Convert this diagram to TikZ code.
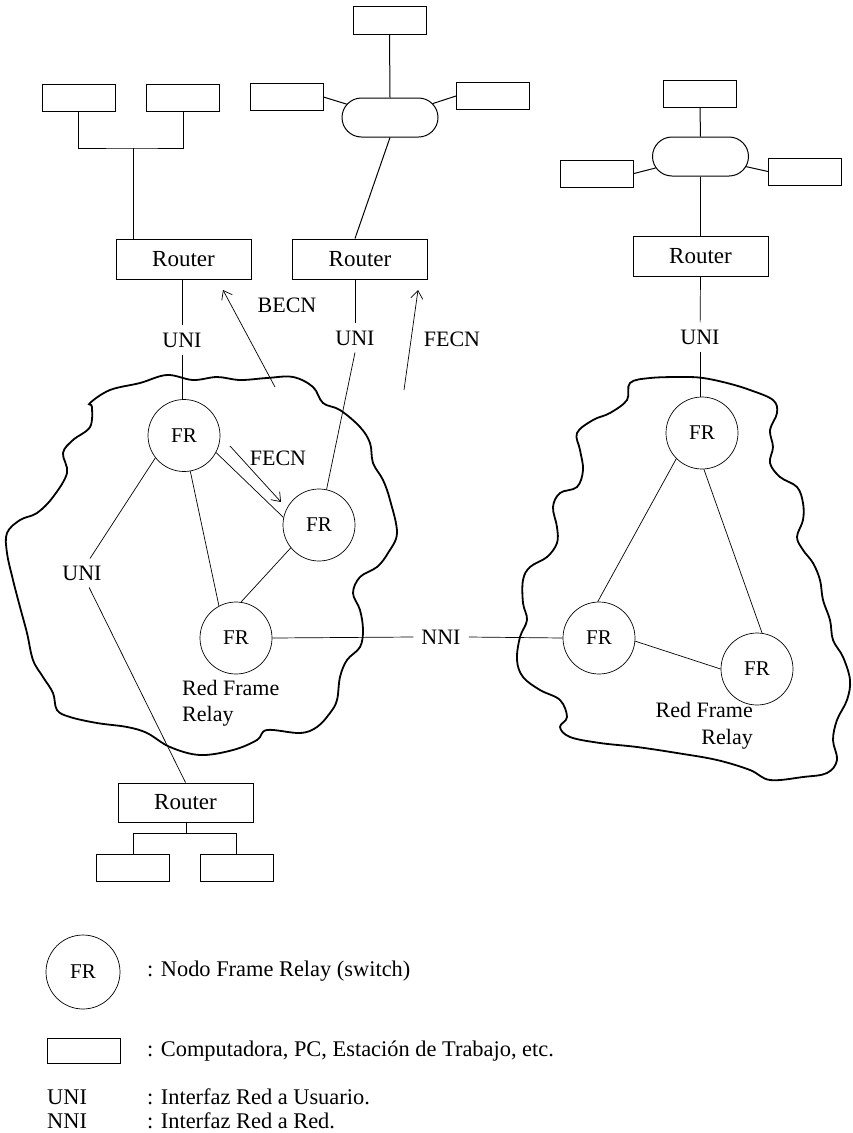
\documentclass[tikz,border=0pt]{standalone}
\usepackage{fontspec}
\setmainfont{Liberation Serif}
\usetikzlibrary{arrows.meta,shapes.misc}
\begin{document}
\begin{tikzpicture}[x=1pt,y=-1pt,
  every node/.style={font=\fontsize{22}{26}\selectfont},
  pcbox/.style={draw,line width=1pt,inner sep=0pt,minimum width=73pt,minimum height=27pt},
  router/.style={draw,line width=1pt,inner sep=0pt,minimum width=135pt,minimum height=40pt,font=\fontsize{23}{27}\selectfont},
  hub/.style={draw,line width=1pt,rounded rectangle,inner sep=0pt,minimum width=96pt,minimum height=39pt},
  frnode/.style={draw,circle,line width=0.7pt,inner sep=0pt,minimum size=72pt,font=\fontsize{21}{25}\selectfont},
  lbl/.style={inner sep=7pt},
  link/.style={line width=0.7pt},
  wire/.style={line width=1pt},
  cloud/.style={line width=1.8pt},
  note/.style={-{Straight Barb[length=8pt,width=12pt]},line width=0.7pt},
  legend/.style={anchor=west,inner sep=0pt,font=\fontsize{22.4}{26}\selectfont}
]
\useasboundingbox (0,0) rectangle (853,1133);

% ---------- clouds ----------
\draw[cloud] plot[smooth cycle,tension=0.6] coordinates {
(90,403) (110,390) (140,383) (167,375) (193,380) (217,377) (240,380) (267,378) (293,377) (313,387) (323,403) (340,410) (360,427) (370,443) (373,463) (383,480) (390,500) (397,533) (388,553) (377,567) (360,577) (353,593) (360,610) (363,630) (360,647) (347,660) (340,677) (337,700) (330,713) (317,727) (300,733) (267,730) (257,740) (233,750) (200,755) (170,747) (147,733) (127,727) (97,723) (70,717) (57,710) (53,693) (43,677) (33,660) (27,633) (20,607) (13,580) (7,553) (7,533) (20,520) (37,513) (53,497) (67,473) (63,453) (73,440) (90,427) (92,407)};
\draw[cloud] plot[smooth cycle,tension=0.6] coordinates {
(630,383) (650,378) (683,377) (703,378) (727,383) (750,390) (773,400) (777,413) (770,430) (773,447) (770,463) (780,477) (797,487) (803,503) (803,520) (797,537) (803,550) (813,563) (820,580) (823,600) (830,620) (833,640) (843,657) (850,680) (847,700) (837,720) (833,740) (837,760) (827,773) (803,777) (770,780) (750,770) (717,760) (677,753) (637,747) (600,743) (570,737) (560,727) (567,717) (560,700) (540,690) (523,677) (517,660) (520,637) (527,620) (523,603) (523,580) (530,567) (547,557) (557,543) (557,527) (553,507) (560,493) (577,487) (583,470) (580,450) (577,433) (593,420) (610,413) (627,400)};

% ---------- computers ----------
\node[pcbox] (pa) at (78.5,97.5) {};
\node[pcbox] (pb) at (183,97.5) {};
\node[pcbox,minimum height=28pt] (pc) at (389.5,20) {};
\node[pcbox] (pd) at (286.5,97) {};
\node[pcbox] (pe) at (493,96) {};
\node[pcbox] (pf) at (700,94) {};
\node[pcbox] (pg) at (597,173.5) {};
\node[pcbox] (ph) at (805,171.5) {};
\node[pcbox] (pi) at (133,868) {};
\node[pcbox] (pj) at (236.5,868) {};

% ---------- hubs ----------
\node[hub] (e1) at (390,117.5) {};
\node[hub] (e2) at (700.5,156.5) {};

% ---------- routers ----------
\node[router] (r1) at (183.5,259) {Router};
\node[router] (r2) at (360,259) {Router};
\node[router] (r3) at (700.5,256.5) {Router};
\node[router,minimum height=39pt] (r4) at (185.5,802.5) {Router};

% ---------- FR switches ----------
\node[frnode] (f1) at (184,435.5) {FR};
\node[frnode] (f2) at (319,525) {FR};
\node[frnode] (f3) at (236,638) {FR};
\node[frnode] (f4) at (702,433) {FR};
\node[frnode] (f5) at (599,638) {FR};
\node[frnode] (f6) at (757,669) {FR};

% ---------- labels ----------
\node[lbl] (uni1) at (182,340) {UNI};
\node[lbl] (uni2) at (355,338) {UNI};
\node[lbl] (uni3) at (700,337) {UNI};
\node[lbl] (uni4) at (82,573) {UNI};
\node[lbl] (becn) at (287,305) {BECN};
\node[lbl] (fecn1) at (452,339) {FECN};
\node[lbl] (fecn2) at (278,458) {FECN};
\node[lbl,inner xsep=8pt] (nni) at (441,637) {NNI};
\node[inner sep=0pt,anchor=north west,align=left] (red1) at (182,680) {Red Frame\\Relay};
\node[inner sep=0pt,anchor=north east,align=right,font=\fontsize{22}{27}\selectfont] (red2) at (753,702) {Red Frame\\Relay};

% ---------- LAN wiring ----------
\coordinate (j1) at (133,148);
\draw[wire] (pa.south) |- (j1) -| (pb.south);
\draw[wire] (j1) -- (j1 |- r1.north);
\draw[wire] (pc.south) -- (e1.north);
\draw[wire] (pd.east) -- (e1);
\draw[wire] (pe.west) -- (e1);
\draw[wire] (e1.south) -- ([xshift=-5pt]r2.north);
\draw[wire] (pf.south) -- (e2.north);
\draw[wire] (pg.east) -- (e2);
\draw[wire] (ph.west) -- (e2);
\draw[wire] (e2.south) -- (r3.north);
\coordinate (j2) at (186,833);
\draw[wire] (r4.south -| j2) -- (j2);
\draw[wire] (pi.north) |- (j2) -| (pj.north);

% ---------- access links ----------
\draw[link] (r1.south -| uni1) -- (uni1);
\draw[link] (uni1) -- (f1.north -| uni1);
\draw[link] ([xshift=-5pt]r2.south) -- (uni2);
\draw[link] (uni2.south) -- (f2.78);
\draw[link] (r3.south) -- (uni3);
\draw[link] (uni3) -- (uni3 |- f4.north);
\draw[link] (f1.-142) -- ([xshift=8pt]uni4.north);
\draw[link] (uni4) -- (r4.north);

% ---------- trunks ----------
\draw[link] (f1.-28) -- (f2.168);
\draw[link] (f1.-80) -- (f3.118);
\draw[link] (f2.-141) -- (f3.82);
\draw[link] (f3.east) -- (nni.west);
\draw[link] (nni.east) -- (f5.west);
\draw[link] (f4.-135) -- (f5.92);
\draw[link] (f4.-87) -- (f6.82);
\draw[link] (f5.-5) -- (f6.180);

% ---------- congestion notifications ----------
\coordinate (b0) at (275,387);
\coordinate (b1) at (223,290);
\draw[note] (b0) -- (b1);
\coordinate (c0) at (404,390);
\coordinate (c1) at (418,290);
\draw[note] (c0) -- (c1);
\coordinate (d0) at (230,446);
\coordinate (d1) at (281,502);
\draw[note] (d0) -- (d1);

% ---------- legend ----------
\node[frnode,minimum size=74pt] (lf) at (83,972) {FR};
\node[pcbox,minimum height=25pt] (lp) at (83.5,1050.5) {};
\node[legend] (t1) at (147,971) {: Nodo Frame Relay (switch)};
\node[legend] (t2) at (147,1051) {: Computadora, PC, Estación de Trabajo, etc.};
\node[legend] (t3a) at (47,1097) {UNI};
\node[legend] (t3) at (147,1097) {: Interfaz Red a Usuario.};
\node[legend] (t4a) at (47,1121) {NNI};
\node[legend] (t4) at (147,1121) {: Interfaz Red a Red.};
\end{tikzpicture}
\end{document}
